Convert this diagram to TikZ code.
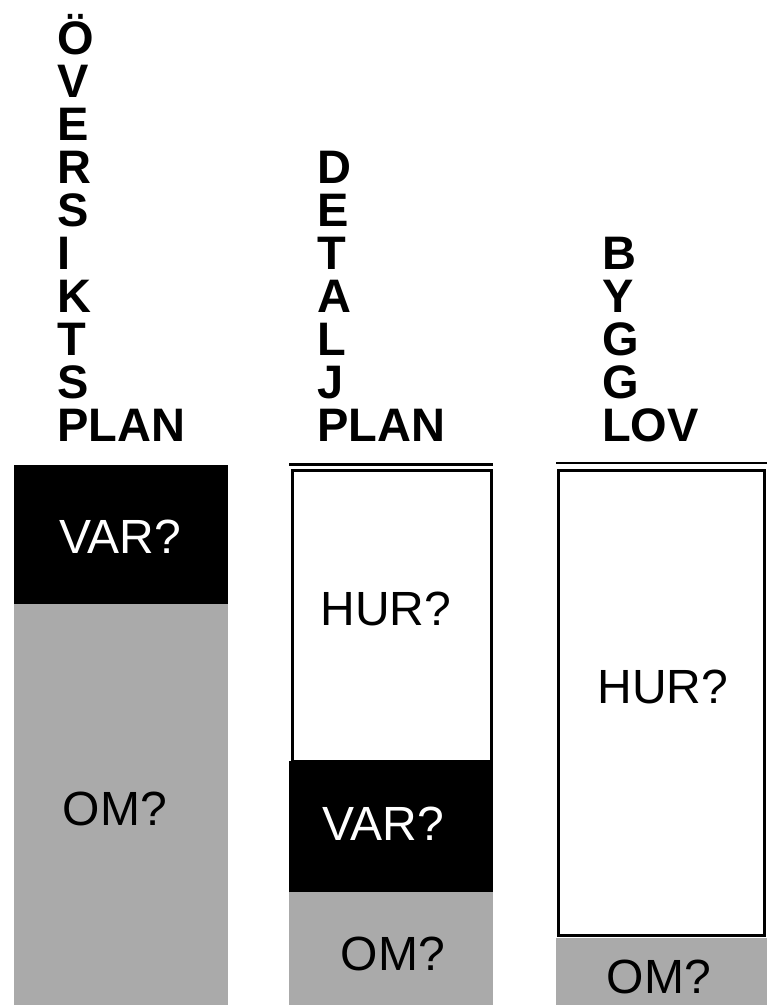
\documentclass[tikz,border=0pt]{standalone}
\usepackage{fontspec}
\setmainfont{Liberation Sans}
\definecolor{omgra}{HTML}{AAAAAA}
\tikzset{
  rubrik/.style={anchor=base west, inner sep=0pt, font=\fontsize{47}{43}\selectfont\bfseries},
  fraga/.style={anchor=base, inner sep=0pt, font=\fontsize{48}{48}\selectfont},
  ram/.style={line width=3pt, fill=white}
}
\begin{document}
\begin{tikzpicture}[x=1pt,y=-1pt]
     \useasboundingbox (0,0) rectangle (767,1005);
     % rubriker, en bokstav per rad
     \foreach \t [count=\i] in {Ö,V,E,R,S,I,K,T,S,PLAN}
          \node[rubrik] (op\i) at (57,{441-(10-\i)*43}) {\t};
     \foreach \t [count=\i] in {D,E,T,A,L,J,PLAN}
          \node[rubrik] (dp\i) at (317,{441-(7-\i)*43}) {\t};
     \foreach \t [count=\i] in {B,Y,G,G,LOV}
          \node[rubrik] (bl\i) at (602,{441-(5-\i)*43}) {\t};
     % översiktsplan
     \fill (14,465) rectangle (228,604);
     \fill[omgra] (14,604) rectangle (228,1005);
     % detaljplan
     \draw[line width=2.5pt] (289,464.5) -- (493,464.5);
     \draw[ram] (292.5,470.5) rectangle (491.5,761);
     \fill (289,761) rectangle (493,892);
     \fill[omgra] (289,892) rectangle (493,1005);
     % bygglov
     \draw[line width=2.5pt] (556,463) -- (767,463);
     \draw[ram] (558.5,470.5) rectangle (764.5,935.5);
     \fill[omgra] (556,937.5) rectangle (767,1005);
     % frågor
     \node[fraga, white] (var1) at (120,553) {VAR?};
     \node[fraga] (om1) at (115,825) {OM?};
     \node[fraga] (hur2) at (386,625) {HUR?};
     \node[fraga, white] (var2) at (383,840) {VAR?};
     \node[fraga] (om2) at (393,970) {OM?};
     \node[fraga] (hur3) at (663,703) {HUR?};
     \node[fraga] (om3) at (659,993) {OM?};
\end{tikzpicture}
\end{document}
